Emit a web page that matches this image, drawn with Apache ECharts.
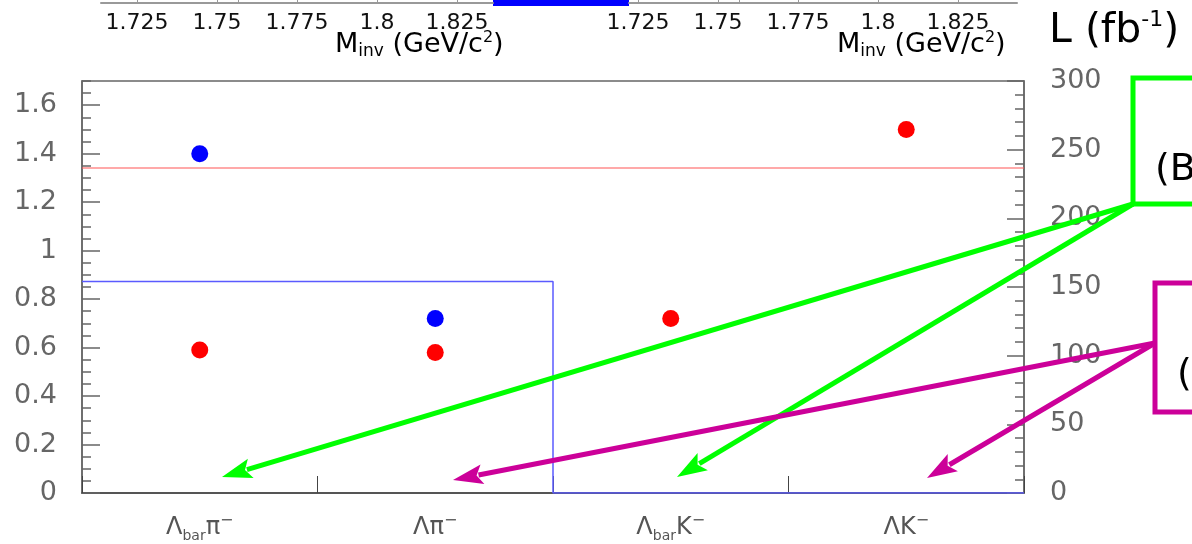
<!DOCTYPE html>
<html><head><meta charset="utf-8">
<script src="https://cdn.jsdelivr.net/npm/echarts@6/dist/echarts.min.js"></script>
<style>html,body{margin:0;padding:0;background:#fff}#c{width:1192px;height:544px}</style>
</head><body><div id="c"></div>
<script>
// ---- data ----
const categories = ['Λbarπ-', 'Λπ-', 'ΛbarK-', 'ΛK-'];
const blueValues = [1.40, 0.72, null, null];
const redValues = [0.59, 0.58, 0.72, 1.50];
const redLevel = [[0, 1.341], [4, 1.341]];
const blueLevel = [[0, 0.873], [2, 0.873], [2, 0], [4, 0]];
const massTicks = [1.725, 1.75, 1.775, 1.8, 1.825];
const massEdge = 1.7567;
const leftMax = 1.7;
const lumMax = 300;

const FONT = 'DejaVu Sans';

function catLabel(s) {
  let out = '';
  let rest = s;
  while (rest.length) {
    if (rest.startsWith('bar')) { out += '{s|bar}'; rest = rest.slice(3); }
    else if (rest[0] === '-') { out += '{p|−}'; rest = rest.slice(1); }
    else { out += '{m|' + rest[0] + '}'; rest = rest.slice(1); }
  }
  return out;
}

function arrow(x1, y1, x2, y2, color) {
  const dx = x2 - x1, dy = y2 - y1, L = Math.hypot(dx, dy);
  const ux = dx / L, uy = dy / L, hl = 30, hw = 10;
  const bx = x2 - ux * hl, by = y2 - uy * hl;
  return [
    { type: 'line', z: 100, shape: { x1: x1, y1: y1, x2: bx + ux * 4, y2: by + uy * 4 },
      style: { stroke: color, lineWidth: 5 } },
    { type: 'polygon', z: 100, shape: { points: [[x2, y2], [bx - uy * hw, by + ux * hw], [bx + ux * 6, by + uy * 6], [bx + uy * hw, by - ux * hw]] },
      style: { fill: color } }
  ];
}

const chart = echarts.init(document.getElementById('c'), null, { renderer: 'canvas' });

const mainLabelStyle = { fontFamily: FONT, fontSize: 27, color: '#666' };
const topAxis = (gi, min, max) => ({
  type: 'value', gridIndex: gi, min: min, max: max,
  axisLine: { show: true, lineStyle: { color: '#999', width: 2 } },
  axisTick: { show: true, inside: true, length: 20, customValues: massTicks.concat([massEdge]), lineStyle: { color: '#999' } },
  axisLabel: { show: true, customValues: massTicks, fontFamily: FONT, fontSize: 22, color: '#111', margin: 9 },
  splitLine: { show: false }
});

const minvRich = {
  m: { fontFamily: FONT, fontSize: 27, color: '#111', lineHeight: 30, verticalAlign: 'middle' },
  s: { fontFamily: FONT, fontSize: 17, color: '#111', verticalAlign: 'bottom', padding: [12, 0, 0, 0] },
  p: { fontFamily: FONT, fontSize: 16, color: '#111', verticalAlign: 'top', padding: [0, 0, 12, 0] }
};

const graphics = [
  { type: 'rect', shape: { x: 493, y: 0, width: 136, height: 6 }, style: { fill: '#0000ff' } },
  { type: 'text', x: 335, y: 45, style: { text: '{m|M}{s|inv}{m| (GeV/c}{p|2}{m|)}', verticalAlign: 'middle', rich: minvRich } },
  { type: 'text', x: 837, y: 45, style: { text: '{m|M}{s|inv}{m| (GeV/c}{p|2}{m|)}', verticalAlign: 'middle', rich: minvRich } },
  { type: 'text', x: 1049, y: 31, style: {
      text: '{m|L (fb}{p|-1}{m|)}', verticalAlign: 'middle',
      rich: { m: { fontFamily: FONT, fontSize: 41, color: '#000', lineHeight: 44, verticalAlign: 'middle' },
              p: { fontFamily: FONT, fontSize: 22, color: '#000', verticalAlign: 'top', padding: [0, 0, 16, 0] } } } },
  { type: 'rect', z: 100, shape: { x: 1133, y: 78, width: 120, height: 126 }, style: { fill: 'none', stroke: '#00ff00', lineWidth: 5 } },
  { type: 'text', z: 100, x: 1155, y: 170, style: { text: '(B', fontFamily: FONT, fontSize: 38, fill: '#000', verticalAlign: 'middle' } },
  { type: 'rect', z: 100, shape: { x: 1155, y: 283, width: 120, height: 129 }, style: { fill: 'none', stroke: '#cc0099', lineWidth: 5 } },
  { type: 'text', z: 100, x: 1177, y: 375, style: { text: '(', fontFamily: FONT, fontSize: 38, fill: '#000', verticalAlign: 'middle' } }
]
.concat(arrow(1133, 204, 222, 477, '#00ff00'))
.concat(arrow(1133, 204, 677, 477, '#00ff00'))
.concat(arrow(1155, 343, 453, 480, '#cc0099'))
.concat(arrow(1155, 343, 927, 478, '#cc0099'));

chart.setOption({
  animation: false,
  backgroundColor: '#fff',
  grid: [
    { left: 82, right: 168, top: 81, bottom: 51, show: true, borderColor: '#666', borderWidth: 1.5, backgroundColor: 'transparent', outerBoundsMode: 'none', containLabel: false },
    { left: 101, width: 392, top: -40, height: 43, outerBoundsMode: 'none', containLabel: false },
    { left: 629, width: 388, top: -40, height: 43, outerBoundsMode: 'none', containLabel: false }
  ],
  xAxis: [
    { type: 'category', gridIndex: 0, data: categories, boundaryGap: true,
      axisLine: { show: true, lineStyle: { color: '#444', width: 1.5 } },
      axisTick: { show: true, inside: true, length: 17, lineStyle: { color: '#444' } },
      axisLabel: { margin: 20, formatter: v => catLabel(v),
        rich: { m: { fontFamily: FONT, fontSize: 24, color: '#555', lineHeight: 30, verticalAlign: 'middle' },
                s: { fontFamily: FONT, fontSize: 14, color: '#555', verticalAlign: 'bottom', padding: [10, 0, 0, 0] },
                p: { fontFamily: FONT, fontSize: 16, color: '#555', verticalAlign: 'top', padding: [0, 0, 12, 0] } } },
      splitLine: { show: false } },
    { type: 'value', gridIndex: 0, min: 0, max: 4, show: false },
    topAxis(1, 1.71375, 1.83625),
    topAxis(2, 1.7221875, 1.8434375)
  ],
  yAxis: [
    { type: 'value', gridIndex: 0, min: 0, max: leftMax, interval: 0.2, position: 'left',
      axisLine: { show: true, lineStyle: { color: '#666', width: 1.5 } },
      axisTick: { show: true, inside: true, length: 18, lineStyle: { color: '#666', width: 1.5 } },
      axisLabel: Object.assign({ margin: 25, showMaxLabel: false }, mainLabelStyle),
      splitLine: { show: false } },
    { type: 'value', gridIndex: 0, min: 0, max: leftMax, interval: 0.05, position: 'left',
      axisLine: { show: false },
      axisTick: { show: true, inside: true, length: 9, lineStyle: { color: '#666', width: 1.5 } },
      axisLabel: { show: false }, splitLine: { show: false } },
    { type: 'value', gridIndex: 0, min: 0, max: lumMax, interval: 50, position: 'right',
      axisLine: { show: true, lineStyle: { color: '#666', width: 1.5 } },
      axisTick: { show: true, inside: true, length: 17, lineStyle: { color: '#666', width: 1.5 } },
      axisLabel: Object.assign({ margin: 26 }, mainLabelStyle),
      splitLine: { show: false } },
    { type: 'value', gridIndex: 0, min: 0, max: lumMax, interval: 10, position: 'right',
      axisLine: { show: false },
      axisTick: { show: true, inside: true, length: 9, lineStyle: { color: '#666', width: 1.5 } },
      axisLabel: { show: false }, splitLine: { show: false } },
    { type: 'value', gridIndex: 1, min: 0, max: 1, show: false },
    { type: 'value', gridIndex: 2, min: 0, max: 1, show: false }
  ],
  series: [
    { type: 'line', xAxisIndex: 1, yAxisIndex: 0, data: redLevel, symbol: 'none',
      lineStyle: { color: '#ff5555', width: 1.2 }, z: 3 },
    { type: 'line', xAxisIndex: 1, yAxisIndex: 0, data: blueLevel, symbol: 'none',
      lineStyle: { color: '#5a5aff', width: 1.5 }, z: 3 },
    { type: 'scatter', xAxisIndex: 0, yAxisIndex: 0, data: blueValues, symbol: 'circle', symbolSize: 17,
      itemStyle: { color: '#0000ff', opacity: 1 }, z: 5 },
    { type: 'scatter', xAxisIndex: 0, yAxisIndex: 0, data: redValues, symbol: 'circle', symbolSize: 17,
      itemStyle: { color: '#ff0000', opacity: 1 }, z: 5 }
  ],
  graphic: graphics
});
</script></body></html>
